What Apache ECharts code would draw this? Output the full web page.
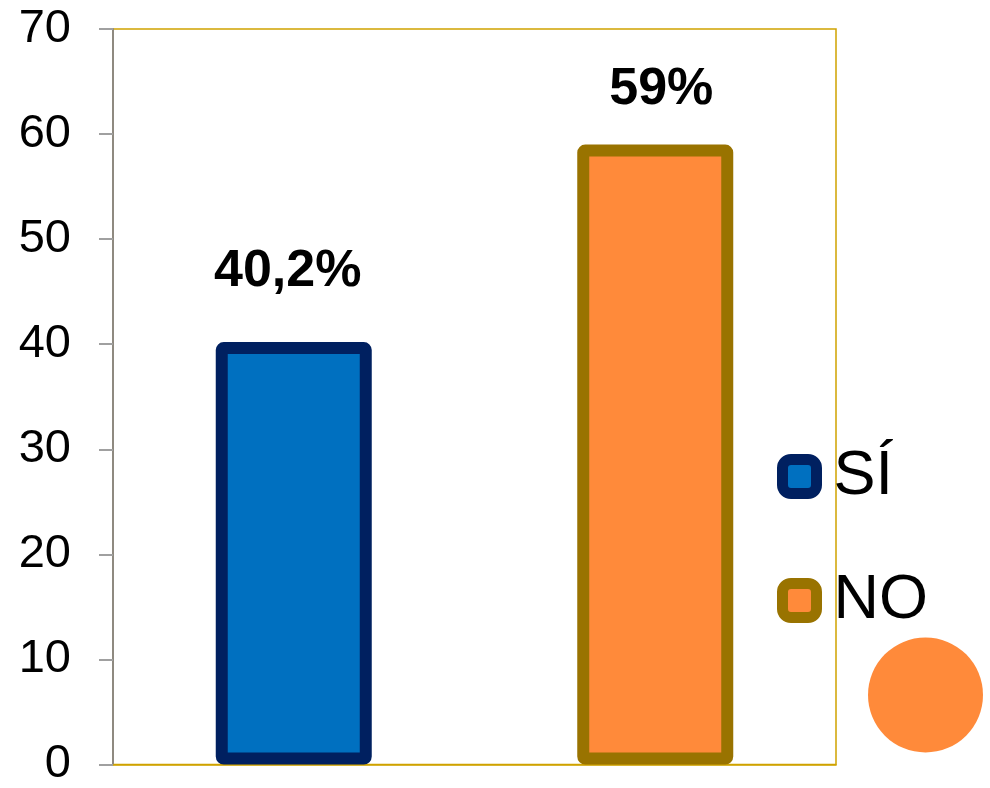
<!DOCTYPE html>
<html>
<head>
<meta charset="utf-8">
<script src="https://cdn.jsdelivr.net/npm/echarts@6/dist/echarts.min.js"></script>
<style>
html,body{margin:0;padding:0;background:#fff;}
#c{width:990px;height:788px;}
</style>
</head>
<body>
<div id="c"></div>
<script>
const categories = ['SÍ', 'NO'];
const values = [40.2, 59];
const valueLabels = ['40,2%', '59%'];
const yTicks = [0, 10, 20, 30, 40, 50, 60, 70];

const fills = ['#0070C0', '#FF8A3A'];
const borders = ['#002060', '#997300'];
const labelDist = [44, 29];
const labelShift = [-6, 6];

const chart = echarts.init(document.getElementById('c'), null, {renderer: 'canvas'});
const FONT = '"Liberation Sans", Arial, sans-serif';

const series = categories.map((name, i) => {
  const data = categories.map((c, j) => j === i ? {
    value: values[i],
    label: {
      show: true, position: 'top', distance: labelDist[i], offset: [labelShift[i], 0],
      formatter: valueLabels[i],
      fontFamily: FONT, fontSize: 52, fontWeight: 'bold', color: '#000', lineHeight: 52
    }
  } : '-');
  return {
    name: name,
    type: 'bar',
    data: data,
    barWidth: 156,
    barGap: '-100%',
    itemStyle: {color: fills[i], borderColor: borders[i], borderWidth: 12, borderRadius: 2},
    emphasis: {disabled: true},
    z: 3
  };
});

chart.setOption({
  animation: false,
  backgroundColor: '#fff',
  grid: {
    left: 113, right: 154, top: 29, bottom: 21,
    show: true, borderColor: '#CFA200', borderWidth: 1.5, backgroundColor: 'transparent'
  },
  xAxis: {
    type: 'category', data: categories,
    axisLine: {show: true, lineStyle: {color: '#CFA200', width: 1.5}},
    axisTick: {show: false}, axisLabel: {show: false}, splitLine: {show: false}
  },
  yAxis: {
    type: 'value', min: yTicks[0], max: yTicks[yTicks.length - 1], interval: 10,
    axisLine: {show: true, lineStyle: {color: '#8f8a80', width: 2}},
    axisTick: {show: true, length: 14, lineStyle: {color: '#a0a0a0', width: 2}},
    axisLabel: {margin: 42, fontFamily: FONT, fontSize: 47, color: '#000'},
    splitLine: {show: false}
  },
  legend: {
    orient: 'vertical', left: 777, top: 445, padding: 0,
    itemWidth: 34, itemHeight: 34, itemGap: 61,
    icon: 'roundRect',
    itemStyle: {borderWidth: 11},
    textStyle: {fontFamily: FONT, fontSize: 63, color: '#000', lineHeight: 60, padding: [0, 0, 0, 12]},
    selectedMode: false
  },
  graphic: [{
    type: 'circle', shape: {cx: 925.5, cy: 695, r: 57.5},
    style: {fill: '#FF8A3A'}, z: 10
  }],
  series: series
});
</script>
</body>
</html>
